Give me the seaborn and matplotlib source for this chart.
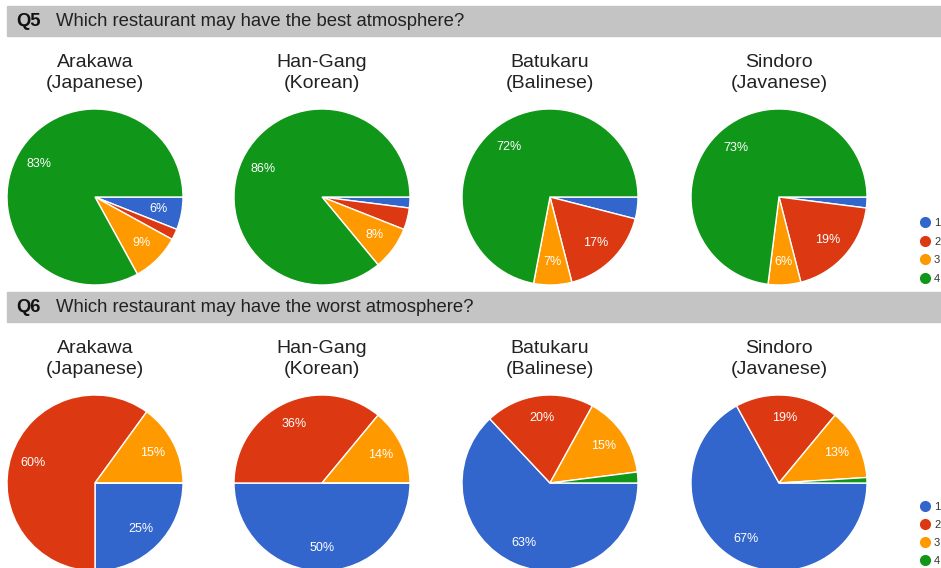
"""Two survey questions as rows of pie charts (restaurant atmosphere)."""
import matplotlib
matplotlib.use("Agg")
import matplotlib.pyplot as plt
from matplotlib.lines import Line2D
from matplotlib.patches import Rectangle
import seaborn as sns

sns.set_style("white")
plt.rcParams["font.family"] = ["Liberation Sans", "DejaVu Sans"]

# ---- data ----
restaurants = ["Arakawa\n(Japanese)", "Han-Gang\n(Korean)",
               "Batukaru\n(Balinese)", "Sindoro\n(Javanese)"]
answers = ["1", "2", "3", "4"]
q5_title = "Which restaurant may have the best atmosphere?"
q6_title = "Which restaurant may have the worst atmosphere?"
# shares (%) for answers 1..4 per restaurant
q5_arakawa = [6, 2, 9, 83]
q5_hangang = [2, 4, 8, 86]
q5_batukaru = [4, 17, 7, 72]
q5_sindoro = [2, 19, 6, 73]
q6_arakawa = [25, 60, 15, 0]
q6_hangang = [50, 36, 14, 0]
q6_batukaru = [63, 20, 15, 2]
q6_sindoro = [67, 19, 13, 1]

palette = sns.color_palette(["#3366cc", "#dc3912", "#ff9900", "#109618"])

W, H = 941, 568
fig = plt.figure(figsize=(W / 100, H / 100), dpi=100)

centers_x = [95, 322, 550, 779]
R = 88


def px_axes(cx, cy, r):
    return fig.add_axes([(cx - r) / W, (H - cy - r) / H, 2 * r / W, 2 * r / H])


def header(y_top, qlabel, text):
    fig.patches.append(Rectangle((7 / W, 1 - (y_top + 30) / H), 1, 30 / H,
                                 transform=fig.transFigure, color="#c4c4c4",
                                 zorder=0))
    fig.text(16 / W, 1 - (y_top + 15.5) / H, qlabel, fontsize=13.3,
             fontweight="bold", va="center", ha="left", color="#111111")
    fig.text(56 / W, 1 - (y_top + 15.5) / H, text, fontsize=13.3,
             va="center", ha="left", color="#222222")


def pct_label(p):
    return f"{p:.0f}%" if p >= 5 else ""


def draw_row(rows, title_y, pie_cy, legend_y, spacing):
    for cx, name, vals in zip(centers_x, restaurants, rows):
        fig.text(cx / W, 1 - title_y / H, name, ha="center", va="center",
                 fontsize=14, linespacing=1.3, color="#222222")
        ax = px_axes(cx, pie_cy, R)
        ax.pie(vals, colors=palette, startangle=0, counterclock=False,
               autopct=pct_label, pctdistance=0.74,
               wedgeprops={"edgecolor": "white", "linewidth": 1},
               textprops={"color": "white", "fontsize": 9})
        ax.set_xlim(-1, 1)
        ax.set_ylim(-1, 1)
        ax.set_aspect("equal")
        ax.axis("off")
    handles = [Line2D([], [], marker="o", linestyle="", markersize=7,
                      markerfacecolor=c, markeredgecolor=c) for c in palette]
    fig.legend(handles, answers, loc="upper left", frameon=False,
               bbox_to_anchor=(919 / W, 1 - legend_y / H), fontsize=8,
               handlelength=1, handletextpad=0.35, labelspacing=spacing,
               borderaxespad=0, borderpad=0, labelcolor="#333333")


header(6, "Q5", q5_title)
draw_row([q5_arakawa, q5_hangang, q5_batukaru, q5_sindoro], 73, 197, 218, 0.78)
header(292, "Q6", q6_title)
draw_row([q6_arakawa, q6_hangang, q6_batukaru, q6_sindoro], 359, 483, 502, 0.72)

fig.savefig("out.png", dpi=100)
